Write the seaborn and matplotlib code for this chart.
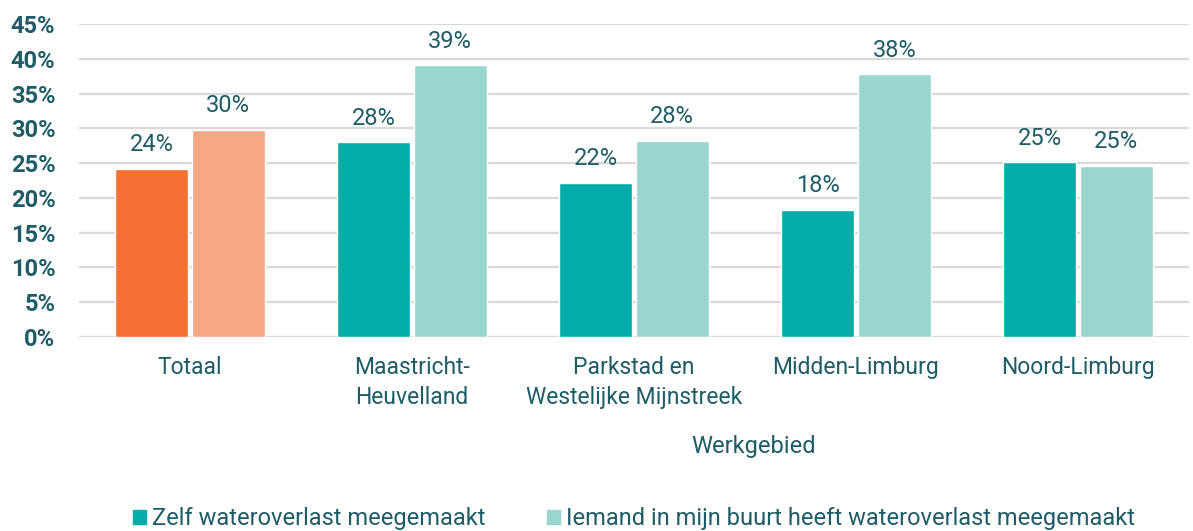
import matplotlib
matplotlib.use('Agg')
import matplotlib.pyplot as plt
import pandas as pd
import seaborn as sns

# values (percent)
regions = ['Totaal', 'Maastricht-\nHeuvelland', 'Parkstad en\nWestelijke Mijnstreek',
           'Midden-Limburg', 'Noord-Limburg']
zelf = [24.2, 28.0, 22.2, 18.3, 25.1]
buurt = [29.8, 39.1, 28.2, 37.8, 24.6]
series = ['Zelf wateroverlast meegemaakt',
          'Iemand in mijn buurt heeft wateroverlast meegemaakt']
y_ticks = [0, 5, 10, 15, 20, 25, 30, 35, 40, 45]

TEXT = '#1F5C66'
TEAL = '#00ADA8'
TEAL_LIGHT = '#98D6CE'
ORANGE = '#F37032'
ORANGE_LIGHT = '#F6A885'

df = pd.DataFrame({
    'region': regions * 2,
    'series': [series[0]] * len(regions) + [series[1]] * len(regions),
    'value': zelf + buurt,
})

sns.set_theme(style='white')
plt.rcParams['font.family'] = ['Roboto', 'DejaVu Sans']

fig = plt.figure(figsize=(11.93, 5.31), dpi=100)
ax = fig.add_axes([79 / 1193, 1 - 337 / 531, 1110 / 1193, 313 / 531])

sns.barplot(data=df, x='region', y='value', hue='series',
            palette=[TEAL, TEAL_LIGHT], width=0.69, gap=0.05,
            saturation=1, ax=ax, legend=False, zorder=3)

# Totaal gets the orange tones
bars = ax.patches
n = len(regions)
bars[0].set_facecolor(ORANGE)
bars[n].set_facecolor(ORANGE_LIGHT)

for bar in bars:
    h = bar.get_height()
    ax.annotate(f'{h:.0f}%', (bar.get_x() + bar.get_width() / 2, h),
                xytext=(0, 9), textcoords='offset points',
                ha='center', va='bottom', fontsize=17, color=TEXT)

ax.set_xlim(-0.5, n - 0.5)
ax.set_ylim(0, 45)
ax.set_yticks(y_ticks)
ax.set_yticklabels([f'{t}%' for t in y_ticks], fontsize=17,
                   fontweight='bold', color=TEXT)
ax.tick_params(axis='x', labelsize=16.5, labelcolor=TEXT, length=0, pad=14)
ax.tick_params(axis='y', length=0, pad=17)
for lbl in ax.get_xticklabels():
    lbl.set_linespacing(1.35)
ax.grid(axis='y', color='#D9D9D9', linewidth=1.6, zorder=0)
ax.set_axisbelow(True)
sns.despine(ax=ax, left=True, bottom=True)

ax.set_xlabel('Werkgebied', fontsize=17, color=TEXT)
ax.xaxis.set_label_coords((754 - 79) / 1110, -(435 - 337) / 313)
ax.set_ylabel('')

handles = [plt.Rectangle((0, 0), 1, 1, color=TEAL),
           plt.Rectangle((0, 0), 1, 1, color=TEAL_LIGHT)]
leg = fig.legend(handles, series, loc='center left',
                 bbox_to_anchor=(133 / 1193, 1 - 519 / 531), ncol=2,
                 frameon=False, fontsize=17, handlelength=0.55,
                 handleheight=0.55, handletextpad=0.25, columnspacing=2.6,
                 borderaxespad=0, borderpad=0)
for t in leg.get_texts():
    t.set_color(TEXT)

fig.savefig('out.png', dpi=100)
